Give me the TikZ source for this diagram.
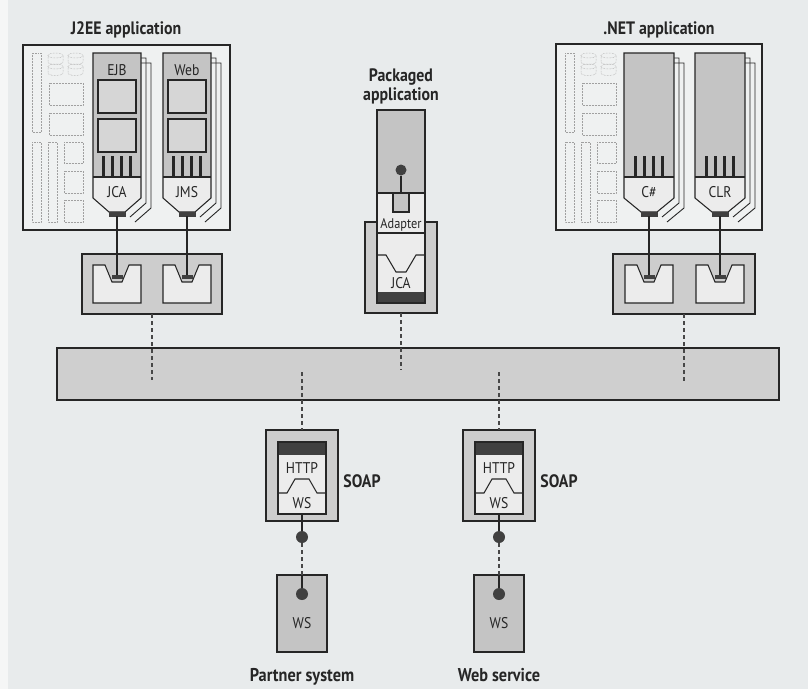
\documentclass[tikz,border=0pt]{standalone}
\usepackage{fontspec}
\setmainfont{PT Sans}[FakeStretch=0.88]
\definecolor{bg}{HTML}{E8EBEC}
\definecolor{paper}{HTML}{EFF1F1}
\definecolor{colgrey}{HTML}{C4C4C4}
\definecolor{innergrey}{HTML}{D6D6D6}
\definecolor{lightf}{HTML}{ECECEC}
\definecolor{framef}{HTML}{CDCDCD}
\definecolor{busf}{HTML}{CFCFCF}
\definecolor{darkf}{HTML}{404040}
\definecolor{ink}{HTML}{262626}
\definecolor{deco}{HTML}{A0A0A0}
\tikzset{
  outl/.style={draw=ink, line width=1.05pt},
  box/.style={draw=ink, line width=1.05pt, rectangle, inner sep=0pt, outer sep=0pt},
  conn/.style={draw=ink, line width=1.9pt},
  stick/.style={draw=ink, line width=1.5pt},
  dashc/.style={draw=ink!85, line width=1.7pt, dash pattern=on 3.5pt off 3.5pt},
  decor/.style={draw=deco, line width=0.5pt, densely dotted},
  shadowl/.style={draw=ink, line width=0.9pt},
  comb/.style={draw=ink, line width=2.3pt},
  lbl/.style={font=\fontsize{15.5}{17}\selectfont, text=ink, anchor=base, inner sep=0pt},
  ttl/.style={font=\bfseries\fontsize{18}{20}\selectfont, text=ink, anchor=base, inner sep=0pt},
}
\newcommand\appcolumn[4]{% #1 L, #2 R, #3 name, #4 inner rects 1/0
  \pgfmathsetmacro\cc{(#1+#2)/2}%
  \foreach \d in {5,10}{%
    \draw[shadowl] (#2,{53+\d}) -- ({#2+\d},{53+\d}) -- ({#2+\d},{198+\d}) -- ({\cc+8+\d},{212+\d});
  }%
  \path[fill=lightf] (#1,53) -- (#2,53) -- (#2,198) -- ({\cc+8},212) -- ({\cc-8},212) -- (#1,198) -- cycle;
  \fill[colgrey] (#1,53) rectangle (#2,177);
  \draw[outl] (#1,177) -- (#2,177);
  \foreach \o in {-13.5,-4.5,4.5,13.5} \draw[comb] ({\cc+\o},156) -- ({\cc+\o},177);
  \ifnum#4=1
    \draw[outl, fill=innergrey] ({#1+5},80) rectangle ({#2-5},113);
    \draw[outl, fill=innergrey] ({#1+5},119) rectangle ({#2-5},152);
  \fi
  \draw[outl] (#1,53) -- (#2,53) -- (#2,198) -- ({\cc+8},212) -- ({\cc-8},212) -- (#1,198) -- cycle;
  \fill[darkf] ({\cc-8.5},212) rectangle ({\cc+8.5},216.5);
  \coordinate (#3stub) at (\cc,216);
}
\newcommand\socket[2]{% #1 C, #2 name
  \draw[outl, fill=lightf] ({#1-24},265) -- ({#1-12},265) -- ({#1-5},282) -- ({#1+5},282) -- ({#1+12},265) -- ({#1+24},265) -- ({#1+24},303) -- ({#1-24},303) -- cycle;
  \fill[darkf] ({#1-5.5},275) rectangle ({#1+5.5},278.5);
  \coordinate (#2) at (#1,275);
}
\newcommand\decorset[1]{% #1 = left edge of app box
  \draw[decor] ({#1+9},53) rectangle ({#1+18},132);
  \foreach \cx in {32.5,52.5}{
    \foreach \ty in {53,64}{
      \draw[decor] ({#1+\cx-7.5},{\ty+2.5}) -- ({#1+\cx-7.5},{\ty+9}) arc[start angle=180, end angle=0, x radius=7.5, y radius=2.5] -- ({#1+\cx+7.5},{\ty+2.5});
      \draw[decor] ({#1+\cx},{\ty+2.5}) ellipse [x radius=7.5, y radius=2.5];
    }
  }
  \draw[decor] ({#1+26},83) rectangle ({#1+60},105);
  \draw[decor] ({#1+26},113) rectangle ({#1+60},135);
  \draw[decor] ({#1+9},142) rectangle ({#1+18},222);
  \draw[decor] ({#1+25},142) rectangle ({#1+34},222);
  \draw[decor] ({#1+41},142) rectangle ({#1+60},163);
  \draw[decor] ({#1+41},171) rectangle ({#1+60},193);
  \draw[decor] ({#1+41},200) rectangle ({#1+60},222);
}
\newcommand\soapstack[3]{% #1 X, #2 name, #3 caption
  \node[box, fill=framef, minimum width=72, minimum height=91] (#2soap) at (#1,475.5) {};
  \fill[lightf] ({#1-24},442) rectangle ({#1+24},514);
  \fill[darkf] ({#1-24},442) rectangle ({#1+24},455);
  \draw[outl] ({#1-24},493) -- ({#1-15},493) -- ({#1-7},479) -- ({#1+7},479) -- ({#1+15},493) -- ({#1+24},493);
  \node[box, minimum width=48, minimum height=72] (#2inner) at (#1,478) {};
  \node[lbl] (#2http) at (#1,473) {HTTP};
  \node[lbl] (#2ws) at (#1,508) {WS};
  \node[ttl] (#2lab) at ({#1+60},487) {SOAP};
  \node[circle, fill=darkf, minimum size=12, inner sep=0pt] (#2dot) at (#1,537) {};
  \draw[stick] (#2inner.south) -- (#2dot);
  \node[box, fill=colgrey, minimum width=50, minimum height=77] (#2wsbox) at (#1,613.5) {};
  \draw[dashc] (#2dot.south) -- (#2wsbox.north);
  \node[circle, fill=darkf, minimum size=12, inner sep=0pt] (#2dotb) at (#1,594) {};
  \draw[stick] (#2wsbox.north) -- (#2dotb);
  \node[lbl] (#2wsl) at (#1,628) {WS};
  \node[ttl, font=\bfseries\fontsize{18.5}{20}\selectfont] (#2cap) at (#1,681) {#3};
}
\begin{document}
\begin{tikzpicture}[x=1pt, y=-1pt]
\useasboundingbox (0,0) rectangle (808,689);
\fill[bg] (0,0) rectangle (808,689);
\fill[white!55!bg] (0,0) rectangle (8,689);

% ---- titles
\node[ttl] (t1) at (126,34) {J2EE application};
\node[ttl] (t2) at (659,34) {.NET application};
\node[ttl] (t3) at (401,81) {Packaged};
\node[ttl] (t4) at (401,100) {application};

% ---- application boxes
\node[box, fill=paper, minimum width=207, minimum height=185] (j2ee) at (126.5,137.5) {};
\node[box, fill=paper, minimum width=206, minimum height=186] (net) at (659,137) {};
\decorset{23}
\decorset{556}
\appcolumn{93}{141}{ejb}{1}
\appcolumn{163}{211}{web}{1}
\appcolumn{624}{674}{cs}{0}
\appcolumn{695}{745}{clr}{0}
\node[lbl] (lejb) at (117,75) {EJB};
\node[lbl] (lweb) at (187,75) {Web};
\node[lbl] (ljca) at (117,197) {JCA};
\node[lbl] (ljms) at (187,197) {JMS};
\node[lbl] (lcs) at (649,197) {C\#};
\node[lbl] (lclr) at (720,197) {CLR};

% ---- plug boxes
\node[box, fill=framef, minimum width=140, minimum height=60] (j2eeplug) at (152,284) {};
\node[box, fill=framef, minimum width=142, minimum height=60] (netplug) at (684,284) {};
\socket{117}{ejbsock}
\socket{187}{websock}
\socket{649}{cssock}
\socket{720}{clrsock}
\draw[conn] (ejbstub) -- (ejbsock);
\draw[conn] (webstub) -- (websock);
\draw[conn] (csstub) -- (cssock);
\draw[conn] (clrstub) -- (clrsock);

% ---- packaged application
\node[box, fill=framef, minimum width=72, minimum height=91] (pkgframe) at (401,267.5) {};
\fill[lightf] (377,110) rectangle (425,303);
\fill[colgrey] (377,110) rectangle (425,193);
\draw[outl] (377,193) -- (425,193);
\draw[outl] (377,233) -- (425,233);
\draw[outl, fill=colgrey] (393,193) rectangle (409,212);
\node[circle, fill=darkf, minimum size=11, inner sep=0pt] (pkgdot) at (401,170) {};
\coordinate (pkgsock) at (401,193);
\draw[stick] (pkgdot) -- (pkgsock);
\draw[outl] (377,255) -- (386,255) -- (396,272) -- (406,272) -- (416,255) -- (425,255);
\fill[darkf] (377,292) rectangle (425,303);
\node[box, minimum width=48, minimum height=193] (pkg) at (401,206.5) {};
\node[lbl, font=\fontsize{14}{16}\selectfont] (ladapter) at (401,228) {Adapter};
\node[lbl] (lpjca) at (401,288) {JCA};

% ---- bus
\node[box, fill=busf, minimum width=722, minimum height=52] (bus) at (418,374) {};
\coordinate (b1) at (152,380);
\coordinate (b2) at (401,370);
\coordinate (b3) at (684,382);
\coordinate (b4) at (302,372);
\coordinate (b5) at (499,372);
\draw[dashc] (j2eeplug.south) -- (b1);
\draw[dashc] (pkgframe.south) -- (b2);
\draw[dashc] (netplug.south) -- (b3);

% ---- SOAP stacks
\soapstack{302}{p}{Partner system}
\soapstack{499}{w}{Web service}
\draw[dashc] (b4) -- (psoap.north);
\draw[dashc] (b5) -- (wsoap.north);
\end{tikzpicture}
\end{document}
